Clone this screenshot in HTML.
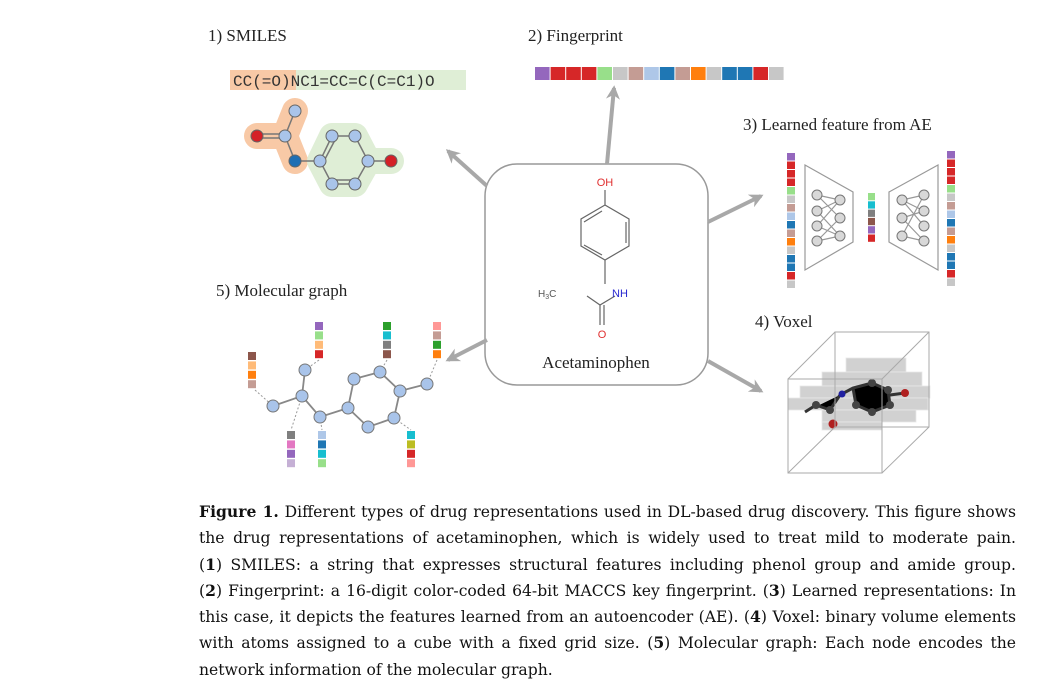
<!DOCTYPE html>
<html><head><meta charset="utf-8"><style>
body{margin:0;width:1053px;height:691px;background:#fff;overflow:hidden;position:relative}
svg{position:absolute;left:0;top:0}
.cap{position:absolute;left:199px;width:817px;font-family:"DejaVu Serif",serif;font-size:15.6px;color:#111;}
.cap div{height:26.3px;line-height:26.3px;text-align:justify;text-align-last:justify;white-space:nowrap}
.cap div.last{text-align-last:left}
</style></head><body>
<svg width="1053" height="691" viewBox="0 0 1053 691" font-family="Liberation Serif, serif">
<defs>
<marker id="a" viewBox="0 0 10 10" refX="8" refY="5" markerWidth="14" markerHeight="14" orient="auto" markerUnits="userSpaceOnUse"><path d="M0,0 L10,5 L0,10 L3,5 z" fill="#a8a8a8"/></marker></defs>
<g font-size="17" fill="#222">
<text x="208" y="41">1) SMILES</text>
<text x="528" y="41">2) Fingerprint</text>
<text x="743" y="130">3) Learned feature from AE</text>
<text x="755" y="327">4) Voxel</text>
<text x="216" y="296">5) Molecular graph</text>
</g>
<rect x="230" y="70" width="66" height="20" fill="#f8c9a6"/>
<rect x="296" y="70" width="170" height="20" fill="#dfeed6"/>
<text x="233" y="86" font-family="Liberation Mono, monospace" font-size="16" fill="#333">CC(=O)NC1=CC=C(C=C1)O</text>
<path d="M257,136 L285,136 L295,111 M285,136 L295,161" fill="none" stroke="#f8c9a6" stroke-width="26" stroke-linecap="round" stroke-linejoin="round"/>
<polygon points="332,136 355,136 368,161 391,161 368,161 355,184 332,184 320,161" fill="#dfeed6" stroke="#dfeed6" stroke-width="26" stroke-linejoin="round"/>
<g stroke="#777" stroke-width="1.5" fill="none">
<path d="M295,111 L285,136 L295,161 L320,161 L332,136 L355,136 L368,161 L355,184 L332,184 L320,161 M368,161 L391,161"/>
<path d="M285,134 L257,134 M285,138 L257,138 M335,140 L324,161 M355,180 L334,180"/>
</g>
<g stroke="#666" stroke-width="1">
<circle cx="295" cy="111" r="6" fill="#a9c4ea"/><circle cx="285" cy="136" r="6" fill="#a9c4ea"/>
<circle cx="257" cy="136" r="6" fill="#d42027"/><circle cx="295" cy="161" r="6" fill="#1f6fb4"/>
<circle cx="320" cy="161" r="6" fill="#a9c4ea"/><circle cx="332" cy="136" r="6" fill="#a9c4ea"/>
<circle cx="355" cy="136" r="6" fill="#a9c4ea"/><circle cx="368" cy="161" r="6" fill="#a9c4ea"/>
<circle cx="355" cy="184" r="6" fill="#a9c4ea"/><circle cx="332" cy="184" r="6" fill="#a9c4ea"/>
<circle cx="391" cy="161" r="6" fill="#d42027"/>
</g>
<g id="fp"></g>
<rect x="485" y="164" width="223" height="221" rx="32" fill="#fff" stroke="#999" stroke-width="1.5"/>
<g stroke="#666" stroke-width="1.2" fill="none">
<path d="M605,190 L605,205 L629,219 L629,246 L605,260 L581,246 L581,219 L605,205 M605,260 L605,284 M587,296 L600,305 L615,296 M600,305 L600,325 M604,305 L604,325 M584,222 L602,211 M626,222 L626,243 M602,255 L584,245"/>
</g>
<text x="605" y="186" font-family="Liberation Sans, sans-serif" font-size="11" fill="#e03030" text-anchor="middle">OH</text>
<text x="620" y="297" font-family="Liberation Sans, sans-serif" font-size="11" fill="#2a2ad0" text-anchor="middle">NH</text>
<text x="538" y="297" font-family="Liberation Sans, sans-serif" font-size="10" fill="#555">H<tspan font-size="7" dy="2">3</tspan><tspan dy="-2">C</tspan></text>
<text x="602" y="338" font-family="Liberation Sans, sans-serif" font-size="11" fill="#e03030" text-anchor="middle">O</text>
<text x="596" y="368" font-size="17" fill="#222" text-anchor="middle">Acetaminophen</text>
<g stroke="#a8a8a8" stroke-width="4" marker-end="url(#a)">
<line x1="607" y1="164" x2="614" y2="88"/>
<line x1="487" y1="186" x2="448" y2="151"/>
<line x1="708" y1="222" x2="761" y2="196"/>
<line x1="708" y1="361" x2="761" y2="391"/>
<line x1="487" y1="340" x2="448" y2="360"/>
</g>
<g stroke="#999" stroke-width="1.2" fill="none">
<polygon points="805,165 853,192 853,242 805,270"/>
<polygon points="938,165 889,192 889,242 938,270"/>
<path d="M817,195 L840,200 M817,195 L840,218 M817,211 L840,200 M817,211 L840,236 M817,226 L840,200 M817,226 L840,236 M817,241 L840,218 M817,241 L840,236"/>
<path d="M902,200 L924,195 M902,200 L924,226 M902,218 L924,211 M902,218 L924,241 M902,236 L924,195 M902,236 L924,241 M902,200 L924,211"/>
</g>
<g fill="#d8d8d8" stroke="#777" stroke-width="1">
<circle cx="817" cy="195" r="5"/><circle cx="817" cy="211" r="5"/><circle cx="817" cy="226" r="5"/><circle cx="817" cy="241" r="5"/>
<circle cx="840" cy="200" r="5"/><circle cx="840" cy="218" r="5"/><circle cx="840" cy="236" r="5"/>
<circle cx="902" cy="200" r="5"/><circle cx="902" cy="218" r="5"/><circle cx="902" cy="236" r="5"/>
<circle cx="924" cy="195" r="5"/><circle cx="924" cy="211" r="5"/><circle cx="924" cy="226" r="5"/><circle cx="924" cy="241" r="5"/>
</g>
<g id="ae"></g>
<g fill="#bdbdbd" fill-opacity="0.7" stroke="#e8e8e8" stroke-width="0.8">
<rect x="846" y="358" width="60" height="14"/><rect x="822" y="372" width="100" height="14"/>
<rect x="800" y="386" width="130" height="12"/><rect x="788" y="398" width="140" height="12"/>
<rect x="822" y="410" width="94" height="12"/><rect x="822" y="422" width="60" height="8"/>
</g>
<g stroke="#333" stroke-width="3">
<path d="M840,395 L853,388 L872,383 L888,390 L890,405 L872,412 L856,405 L853,388 M890,395 L905,393 M840,395 L830,410 L816,405 L805,412"/>
</g>
<g fill="#444"><circle cx="872" cy="383" r="4"/><circle cx="888" cy="390" r="4"/><circle cx="890" cy="405" r="4"/><circle cx="872" cy="412" r="4"/><circle cx="856" cy="405" r="4"/><circle cx="830" cy="410" r="4"/><circle cx="816" cy="405" r="4"/></g>
<circle cx="842" cy="394" r="3.5" fill="#2020a0"/><circle cx="905" cy="393" r="4" fill="#b02020"/><circle cx="833" cy="424" r="4.5" fill="#b02020"/>
<g stroke="#aaa" stroke-width="1" fill="none">
<rect x="788" y="379" width="94" height="94"/><rect x="835" y="332" width="94" height="95"/>
<path d="M788,379 L835,332 M882,379 L929,332 M882,473 L929,427 M788,473 L835,427"/>
</g>
<g stroke="#999" stroke-width="1" stroke-dasharray="2,2">
<path d="M255,390 L273,406 M319,360 L305,370 M387,360 L380,372 M437,360 L427,384 M302,396 L291,430 M320,417 L322,430 M394,418 L411,430"/>
</g>
<g stroke="#888" stroke-width="1.8" fill="none">
<path d="M273,406 L302,396 L305,370 M302,396 L320,417 L348,408 L354,379 L380,372 L400,391 L394,418 L368,427 L348,408 M400,391 L427,384"/>
</g>
<g fill="#a9c4ea" stroke="#777" stroke-width="1">
<circle cx="273" cy="406" r="6"/><circle cx="302" cy="396" r="6"/><circle cx="305" cy="370" r="6"/><circle cx="320" cy="417" r="6"/><circle cx="348" cy="408" r="6"/><circle cx="354" cy="379" r="6"/><circle cx="380" cy="372" r="6"/><circle cx="400" cy="391" r="6"/><circle cx="394" cy="418" r="6"/><circle cx="368" cy="427" r="6"/><circle cx="427" cy="384" r="6"/>
</g>
<g id="mg"></g>
</svg>
<div class="cap" style="top:499px">
<div><b>Figure 1.</b> Different types of drug representations used in DL-based drug discovery. This figure shows</div>
<div>the drug representations of acetaminophen, which is widely used to treat mild to moderate pain.</div>
<div>(<b>1</b>) SMILES: a string that expresses structural features including phenol group and amide group.</div>
<div>(<b>2</b>) Fingerprint: a 16-digit color-coded 64-bit MACCS key fingerprint. (<b>3</b>) Learned representations: In</div>
<div>this case, it depicts the features learned from an autoencoder (AE). (<b>4</b>) Voxel: binary volume elements</div>
<div>with atoms assigned to a cube with a fixed grid size. (<b>5</b>) Molecular graph: Each node encodes the</div>
<div class="last">network information of the molecular graph.</div>
</div>
<script>
var NS="http://www.w3.org/2000/svg";
function r(g,x,y,w,h,c){var e=document.createElementNS(NS,"rect");e.setAttribute("x",x);e.setAttribute("y",y);e.setAttribute("width",w);e.setAttribute("height",h);e.setAttribute("fill",c);document.getElementById(g).appendChild(e);}
var fp=["#9467bd","#d62728","#d62728","#d62728","#98df8a","#c7c7c7","#c49c94","#aec7e8","#1f77b4","#c49c94","#ff7f0e","#c7c7c7","#1f77b4","#1f77b4","#d62728","#c7c7c7"];
fp.forEach(function(c,i){r("fp",535+i*15.6,67,14.6,13,c);});
fp.forEach(function(c,i){r("ae",787,153+i*8.5,8,7.5,c);r("ae",947,151+i*8.5,8,7.5,c);});
["#98df8a","#17becf","#7f7f7f","#8c564b","#9467bd","#d62728"].forEach(function(c,i){r("ae",868,193+i*8.3,7,7.3,c);});
var cols=[[248,352,["#8c564b","#ffbb78","#ff7f0e","#c49c94"]],[315,322,["#9467bd","#98df8a","#ffbb78","#d62728"]],[383,322,["#2ca02c","#17becf","#7f7f7f","#8c564b"]],[433,322,["#ff9896","#c49c94","#2ca02c","#ff7f0e"]],[287,431,["#7f7f7f","#e377c2","#9467bd","#c5b0d5"]],[318,431,["#aec7e8","#1f77b4","#17becf","#98df8a"]],[407,431,["#17becf","#bcbd22","#d62728","#ff9896"]]];
cols.forEach(function(c){c[2].forEach(function(k,i){r("mg",c[0],c[1]+i*9.4,8,8,k);});});
</script>
</body></html>
